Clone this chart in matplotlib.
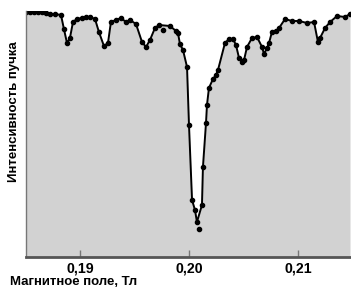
import matplotlib
matplotlib.use("Agg")
import matplotlib.pyplot as plt

# magnetic field, T
field = [0.18505, 0.18541, 0.18578, 0.18615, 0.18651, 0.18688, 0.18725, 0.18771,
         0.18826, 0.18853, 0.18881, 0.18908, 0.18936, 0.18972, 0.19018, 0.19055,
         0.19092, 0.19138, 0.19174, 0.19220, 0.19257, 0.19284, 0.19330, 0.19376,
         0.19422, 0.19459, 0.19514, 0.19569, 0.19606, 0.19642, 0.19688, 0.19725,
         0.19826, 0.19881, 0.19899, 0.19917, 0.19945, 0.19982, 0.20000, 0.20028,
         0.20055, 0.20073, 0.20119, 0.20128, 0.20156, 0.20165, 0.20183, 0.20220,
         0.20248, 0.20266, 0.20330, 0.20367, 0.20404, 0.20431, 0.20459, 0.20486,
         0.20505, 0.20532, 0.20578, 0.20624, 0.20670, 0.20688, 0.20716, 0.20734,
         0.20761, 0.20798, 0.20826, 0.20881, 0.20945, 0.21009, 0.21083, 0.21147,
         0.21183, 0.21202, 0.21248, 0.21294, 0.21358, 0.21431, 0.21477]
# beam intensity, arbitrary units
intensity = [245, 245, 245, 245, 245, 244, 243, 243,
             242, 228, 214, 219, 235, 238, 239, 240,
             240, 238, 225, 211, 214, 235, 237, 239,
             235, 237, 233, 215, 210, 217, 229, 232,
             231, 226, 224, 213, 207, 190, 132, 57,
             47, 35, 52, 90, 134, 152, 169, 178,
             182, 187, 214, 218, 218, 212, 199, 195,
             197, 210, 219, 220, 210, 203, 209, 214,
             225, 226, 229, 238, 236, 236, 234, 235,
             215, 219, 229, 235, 241, 240, 243]

# points that sit off the line
extra_field = [0.19761, 0.20092]
extra_intensity = [227, 28]

xticks = [0.19, 0.20, 0.21]
xtick_labels = ["0,19", "0,20", "0,21"]

font = ["Liberation Sans", "DejaVu Sans"]

fig = plt.figure(figsize=(3.51, 2.88), dpi=100)
ax = fig.add_axes([26 / 351, 31 / 288, 1 - 26 / 351, 246 / 288])

ax.fill_between(field, intensity, 0, color="#d2d2d2", lw=0)
ax.plot(field, intensity, color="black", lw=1.4, marker="o", ms=3)
ax.plot(extra_field, extra_intensity, "o", color="black", ms=3)

ax.set_xlim(0.18505, 0.21486)
ax.set_ylim(0, 246)

for s in ["top", "right"]:
    ax.spines[s].set_visible(False)
ax.spines["bottom"].set_color("#555555")
ax.spines["bottom"].set_linewidth(2)
ax.spines["left"].set_color("#777777")
ax.spines["left"].set_linewidth(1)

ax.set_yticks([])
ax.set_xticks(xticks)
ax.set_xticklabels(xtick_labels, family=font, fontweight="bold", fontsize=10.2)
ax.tick_params(axis="x", direction="in", length=5, width=1, color="#777777", pad=3)

fig.text(14 / 351, 1 - 112 / 288, "Интенсивность пучка", rotation=90,
         ha="center", va="center", family=font, fontweight="bold", fontsize=9.5)
fig.text(10 / 351, 1 - 282 / 288, "Магнитное поле, Тл", ha="left", va="center",
         family=font, fontweight="bold", fontsize=9.5)

fig.savefig("out.png", dpi=100)
